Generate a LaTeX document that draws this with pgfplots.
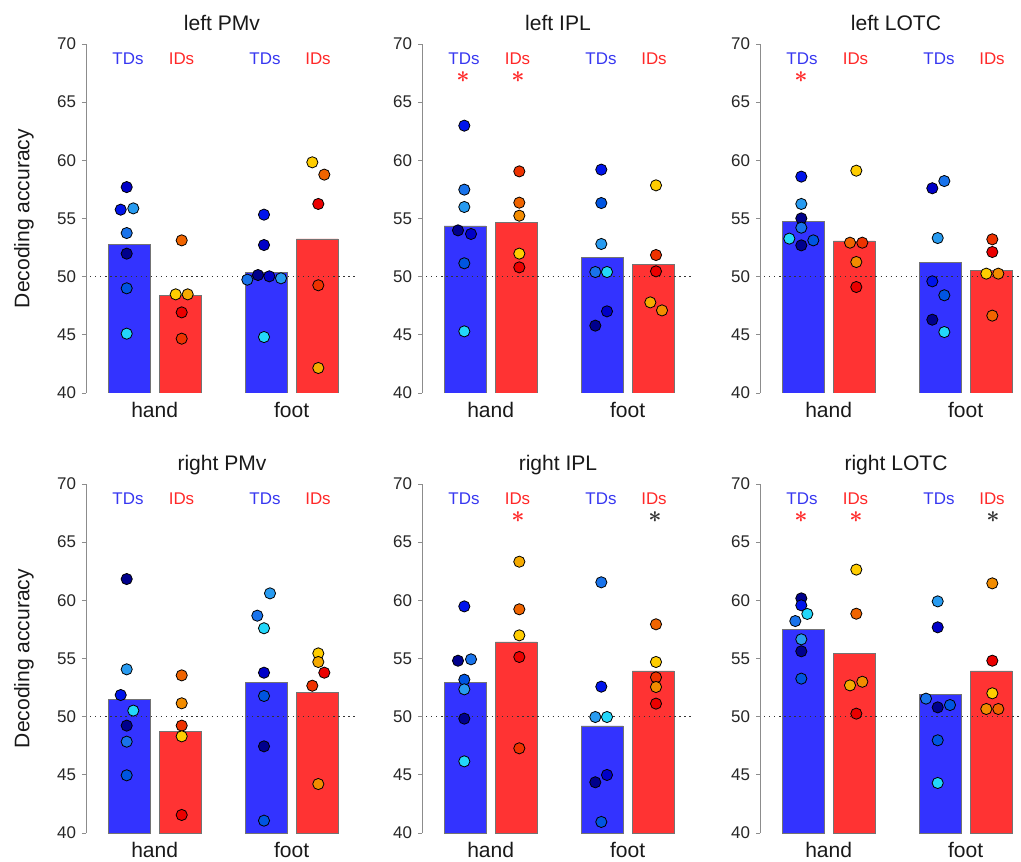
\documentclass[border=0pt]{standalone}
\usepackage{fontspec}
\setmainfont{Liberation Sans}
\usepackage{bm}
\usepackage{pgfplots}
\usepackage{pgfplotstable}
\pgfplotsset{compat=1.18}
\definecolor{tdbar}{RGB}{51,51,255}
\definecolor{idbar}{RGB}{255,51,51}
\definecolor{tdtxt}{RGB}{55,55,240}
\definecolor{idtxt}{RGB}{255,40,40}
\definecolor{cb1}{RGB}{0,0,140}
\definecolor{cb2}{RGB}{0,0,200}
\definecolor{cb3}{RGB}{0,20,235}
\definecolor{cb4}{RGB}{0,85,225}
\definecolor{cb5}{RGB}{25,115,235}
\definecolor{cb6}{RGB}{40,155,240}
\definecolor{cb7}{RGB}{35,215,250}
\definecolor{cr1}{RGB}{235,0,0}
\definecolor{cr2}{RGB}{238,50,0}
\definecolor{cr3}{RGB}{240,100,0}
\definecolor{cr4}{RGB}{242,140,0}
\definecolor{cr5}{RGB}{245,170,0}
\definecolor{cr6}{RGB}{255,205,0}

\pgfplotstableread{
x y c
40.7 57.70 b2
34.7 55.76 b3
47.3 55.87 b6
40.7 53.75 b5
40.7 51.98 b1
40.7 49.00 b4
40.7 45.10 b7
95.7 53.12 r3
89.7 48.48 r6
101.7 48.48 r5
95.7 46.93 r1
95.7 44.67 r2
178 55.33 b3
178 52.72 b2
161.3 49.74 b5
172 50.14 b1
183.3 50.03 b2
195 49.86 b6
178 44.81 b7
226.3 59.83 r6
238.3 58.77 r3
232.3 56.25 r1
232.3 49.26 r2
232.3 42.15 r5
}\dotsA

\pgfplotstableread{
x y c
42.3 62.98 b3
42.3 57.48 b5
42.3 55.99 b6
36 53.98 b1
49 53.67 b2
42.3 51.15 b4
42.3 45.30 b7
97.3 59.05 r2
97.3 56.36 r3
97.3 55.24 r4
97.3 51.98 r6
97.3 50.80 r1
179.3 59.20 b3
179.3 56.33 b4
179.3 52.81 b6
173.3 50.40 b5
185 50.40 b7
173.3 45.79 b1
185 47.02 b2
234 57.85 r6
234 51.86 r2
234 50.46 r1
228.3 47.79 r5
240 47.10 r4
}\dotsB

\pgfplotstableread{
x y c
41.3 58.60 b3
41.3 56.25 b6
41.3 55.01 b1
41.3 54.21 b5
29.3 53.27 b7
53.3 53.12 b4
41.3 52.69 b1
96.3 59.11 r6
90 52.92 r3
102.3 52.92 r2
96.3 51.26 r4
96.3 49.11 r1
172.3 57.60 b2
184.3 58.22 b5
177.7 53.32 b6
172.3 49.60 b3
184.3 48.40 b4
172.3 46.30 b1
184.3 45.24 b7
232.3 53.21 r2
232.3 52.12 r1
226.3 50.26 r6
238.3 50.26 r4
232.3 46.65 r3
}\dotsC

\pgfplotstableread{
x y c
40.7 61.83 b1
40.7 54.07 b6
34.7 51.86 b3
47.3 50.52 b7
40.7 49.23 b1
40.7 47.85 b5
40.7 44.96 b4
95.7 53.55 r3
95.7 51.15 r4
95.7 49.23 r2
95.7 48.31 r6
95.7 41.55 r1
184 60.60 b6
171.3 58.68 b5
178 57.60 b7
178 53.78 b2
178 51.78 b4
178 47.45 b1
178 41.06 b4
232.3 55.44 r6
232.3 54.70 r5
238.3 53.78 r1
226.3 52.66 r2
232.3 44.21 r4
}\dotsD

\pgfplotstableread{
x y c
42.3 59.48 b3
36 54.81 b1
49 54.93 b5
42.3 53.18 b4
42.3 52.35 b6
42.3 49.83 b1
42.3 46.16 b7
97.3 63.32 r5
97.3 59.23 r3
97.3 56.99 r6
97.3 55.13 r1
97.3 47.28 r2
179.3 61.55 b5
179.3 52.58 b3
173.3 49.97 b6
185 49.97 b7
185 44.99 b2
173.3 44.36 b1
179.3 40.95 b4
234 57.94 r3
234 54.70 r6
234 53.38 r2
234 52.55 r4
234 51.12 r1
}\dotsE

\pgfplotstableread{
x y c
41.3 60.17 b1
41.3 59.57 b3
47.3 58.83 b7
35.3 58.22 b5
41.3 56.65 b6
41.3 55.62 b1
41.3 53.27 b4
96.3 62.64 r6
96.3 58.85 r3
90 52.69 r5
102.3 53.00 r4
96.3 50.26 r1
177.7 59.91 b6
177.7 57.68 b2
166 51.55 b5
177.7 50.80 b1
190 51.00 b4
177.7 47.97 b4
177.7 44.30 b7
232.3 61.46 r4
232.3 54.81 r1
232.3 52.01 r6
226.3 50.66 r4
238.3 50.66 r3
}\dotsF

\pgfplotsset{
  panel/.style={
    scale only axis, width=204pt, height=261.75pt,
    xmin=0, xmax=272, ymin=40, ymax=70,
    anchor=south west,
    axis x line*=bottom, axis y line*=left,
    x axis line style={draw=none},
    y axis line style={draw=black!45, line width=0.7pt},
    xtick={68.7,205.6}, xticklabels={hand,foot},
    xtick style={draw=none},
    ytick={40,45,50,55,60,65,70},
    ytick style={draw=black!45, line width=0.7pt},
    tick align=outside, major tick length=3pt,
    /pgf/number format/assume math mode=true,
    yticklabel style={font=\fontsize{12.7}{14}\selectfont, text=black!85, xshift=-1pt},
    xticklabel style={font=\fontsize{15.8}{18}\selectfont, text=black!90, anchor=base, yshift=-15.5pt},
    title style={font=\fontsize{15.8}{18}\selectfont, text=black!90, anchor=base, at={(axis description cs:0.5,1)}, yshift=4pt},
    every axis y label/.style={at={(axis description cs:-0.228,0.5)}, rotate=90, anchor=center, font=\fontsize{15.8}{18}\selectfont, text=black!90},
    scatter/classes={
      b1={mark=*, draw=black, fill=cb1}, b2={mark=*, draw=black, fill=cb2},
      b3={mark=*, draw=black, fill=cb3}, b4={mark=*, draw=black, fill=cb4},
      b5={mark=*, draw=black, fill=cb5}, b6={mark=*, draw=black, fill=cb6},
      b7={mark=*, draw=black, fill=cb7},
      r1={mark=*, draw=black, fill=cr1}, r2={mark=*, draw=black, fill=cr2},
      r3={mark=*, draw=black, fill=cr3}, r4={mark=*, draw=black, fill=cr4},
      r5={mark=*, draw=black, fill=cr5}, r6={mark=*, draw=black, fill=cr6}},
  },
  tdb/.style={ybar, bar width=41.7, fill=tdbar, draw=black!55, line width=0.5pt},
  idb/.style={ybar, bar width=41.7, fill=idbar, draw=black!55, line width=0.5pt},
  dots/.style={only marks, scatter, scatter src=explicit symbolic, mark size=4.2pt, line width=0.6pt},
}
\newcommand{\grouplabels}[1]{%
  \node[anchor=base, inner sep=1pt, text=tdtxt, font=\fontsize{12.7}{14}\selectfont] at (axis cs:42,#1) {TDs};
  \node[anchor=base, inner sep=1pt, text=idtxt, font=\fontsize{12.7}{14}\selectfont] at (axis cs:95.5,#1) {IDs};
  \node[anchor=base, inner sep=1pt, text=tdtxt, font=\fontsize{12.7}{14}\selectfont] at (axis cs:179,#1) {TDs};
  \node[anchor=base, inner sep=1pt, text=idtxt, font=\fontsize{12.7}{14}\selectfont] at (axis cs:232,#1) {IDs};
}
\newcommand{\chance}{\draw[black!80, line width=1pt, dash pattern=on 1pt off 2.8pt] (axis cs:4,50) -- (axis cs:272,50);}
\newcommand{\sigstar}[3]{\node[inner sep=0pt, text=#3, font=\fontsize{16}{16}\selectfont] at (axis cs:#1,#2) {$\bm{\ast}$};}

\begin{document}
\begin{tikzpicture}
\useasboundingbox (0,0) rectangle (765.75pt,645.75pt);

% ---- top row ----
\begin{axis}[panel, at={(64.5pt,351pt)}, title={left PMv}, ylabel={Decoding accuracy}]
\addplot[tdb] coordinates {(43,52.75) (180,50.37)};
\addplot[idb] coordinates {(94.3,48.40) (231.2,53.24)};
\chance
\addplot[dots] table[x=x, y=y, meta=c] {\dotsA};
\grouplabels{68.28}
\end{axis}

\begin{axis}[panel, at={(316.5pt,351pt)}, title={left IPL}]
\addplot[tdb] coordinates {(43,54.36) (180,51.69)};
\addplot[idb] coordinates {(94.3,54.67) (231.2,51.03)};
\chance
\addplot[dots] table[x=x, y=y, meta=c] {\dotsB};
\grouplabels{68.28}
\sigstar{41}{67.2}{idtxt}
\sigstar{96}{67.2}{idtxt}
\end{axis}

\begin{axis}[panel, at={(570pt,351pt)}, title={left LOTC}]
\addplot[tdb] coordinates {(43,54.73) (180,51.20)};
\addplot[idb] coordinates {(94.3,53.07) (231.2,50.52)};
\chance
\addplot[dots] table[x=x, y=y, meta=c] {\dotsC};
\grouplabels{68.28}
\sigstar{41}{67.2}{idtxt}
\end{axis}

% ---- bottom row ----
\begin{axis}[panel, at={(64.5pt,21pt)}, title={right PMv}, ylabel={Decoding accuracy}]
\addplot[tdb] coordinates {(43,51.46) (180,52.98)};
\addplot[idb] coordinates {(94.3,48.74) (231.2,52.12)};
\chance
\addplot[dots] table[x=x, y=y, meta=c] {\dotsD};
\grouplabels{68.2}
\end{axis}

\begin{axis}[panel, at={(316.5pt,21pt)}, title={right IPL}]
\addplot[tdb] coordinates {(43,52.98) (180,49.20)};
\addplot[idb] coordinates {(94.3,56.42) (231.2,53.93)};
\chance
\addplot[dots] table[x=x, y=y, meta=c] {\dotsE};
\grouplabels{68.2}
\sigstar{96}{67.15}{idtxt}
\sigstar{233}{67.15}{black!80}
\end{axis}

\begin{axis}[panel, at={(570pt,21pt)}, title={right LOTC}]
\addplot[tdb] coordinates {(43,57.48) (180,51.89)};
\addplot[idb] coordinates {(94.3,55.47) (231.2,53.93)};
\chance
\addplot[dots] table[x=x, y=y, meta=c] {\dotsF};
\grouplabels{68.2}
\sigstar{41}{67.15}{idtxt}
\sigstar{96}{67.15}{idtxt}
\sigstar{233}{67.15}{black!80}
\end{axis}
\end{tikzpicture}
\end{document}
